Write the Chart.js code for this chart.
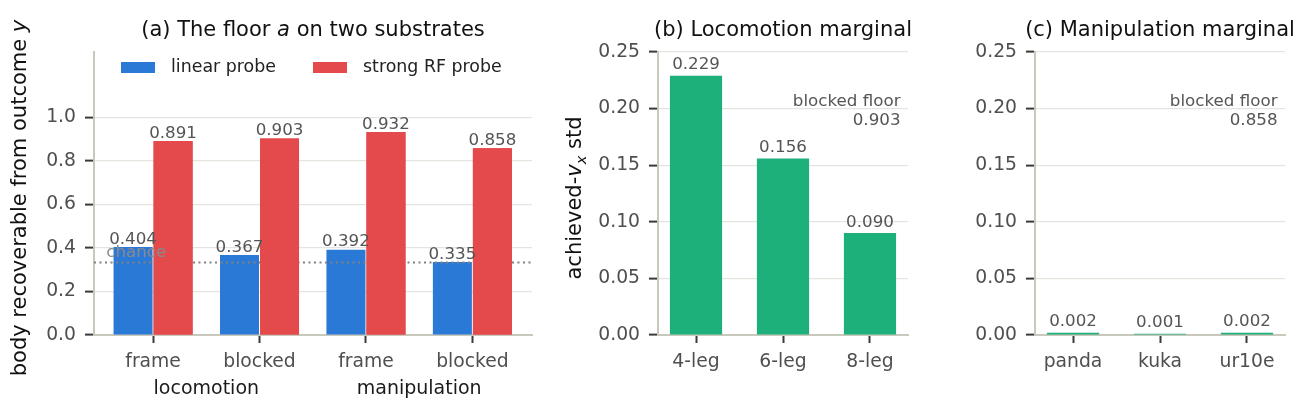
<!DOCTYPE html>
<html><head><meta charset="utf-8">
<script src="https://cdn.jsdelivr.net/npm/chart.js@4.4.1/dist/chart.umd.min.js"></script>
<style>
html,body{margin:0;padding:0;background:#fff;}
#wrap{position:relative;width:1306px;height:407px;overflow:hidden;background:#fff;}
canvas{position:absolute;top:0;}
</style></head><body>
<div id="wrap">
<canvas id="ca" width="550" height="407" style="left:0px"></canvas>
<canvas id="cb" width="400" height="407" style="left:550px"></canvas>
<canvas id="cc" width="356" height="407" style="left:950px"></canvas>
</div>
<script>
// ---------------- data ----------------
const substrateGroups = ['locomotion', 'manipulation'];
const readoutLabels = ['frame', 'blocked', 'frame', 'blocked'];
const linearProbe = [0.404, 0.367, 0.392, 0.335];
const strongRFProbe = [0.891, 0.903, 0.932, 0.858];
const chanceLevel = 0.333;
const floorTicks = [0, 0.2, 0.4, 0.6, 0.8, 1.0];

const locoBodies = ['4-leg', '6-leg', '8-leg'];
const locoStd = [0.229, 0.156, 0.090];
const manipBodies = ['panda', 'kuka', 'ur10e'];
const manipStd = [0.002, 0.001, 0.002];
const marginalTicks = [0, 0.05, 0.10, 0.15, 0.20, 0.25];
const blockedFloorLoco = 0.903;
const blockedFloorManip = 0.858;

// ---------------- style ----------------
const FONT = '"DejaVu Sans", "Liberation Sans", sans-serif';
const BLUE = '#2b79d6', RED = '#e4494c', GREEN = '#1eb07b';
const spineColor = '#c8c8bc', gridColor = '#e5e5df', tickMarkColor = '#3a3a3a';
const tickLabelColor = '#4f4f4f', valueColor = '#555555', textBlack = '#111111';
const TICK_FS = 18.75, VALUE_FS = 16.7, TITLE_FS = 21, LABEL_FS = 21;

Chart.defaults.font.family = FONT;

function fnt(size, italic) { return (italic ? 'italic ' : '') + size + 'px ' + FONT; }
function richWidth(ctx, parts, size) {
  let w = 0;
  for (const p of parts) { ctx.font = fnt(size * (p.scale || 1), p.italic); w += ctx.measureText(p.t).width; }
  return w;
}
function drawRich(ctx, parts, size, x, y, align) {
  const w = richWidth(ctx, parts, size);
  let cx = align === 'center' ? x - w / 2 : (align === 'right' ? x - w : x);
  ctx.textAlign = 'left'; ctx.textBaseline = 'alphabetic';
  for (const p of parts) {
    ctx.font = fnt(size * (p.scale || 1), p.italic);
    ctx.fillText(p.t, cx, y + (p.dy || 0) * size);
    cx += ctx.measureText(p.t).width;
  }
}

function makeYScale(max, ticksArr, decimals, width) {
  return {
    type: 'linear', min: 0, max: max,
    afterBuildTicks: s => { s.ticks = ticksArr.map(v => ({ value: v })); },
    afterFit: s => { s.width = width; },
    ticks: { callback: v => Number(v).toFixed(decimals), font: { family: FONT, size: TICK_FS }, color: tickLabelColor, padding: 9 },
    grid: {
      color: c => (c.tick && c.tick.value === 0) ? 'rgba(0,0,0,0)' : gridColor,
      lineWidth: 1.2, drawTicks: true, tickLength: 9, tickColor: tickMarkColor, tickWidth: 2
    },
    border: { display: true, color: spineColor, width: 2 }
  };
}
function makeXScale(labels, min, max) {
  return {
    type: 'linear', min: min, max: max, offset: false,
    afterBuildTicks: s => { s.ticks = labels.map((_, i) => ({ value: i })); },
    afterFit: s => { s.height = 72; },
    ticks: { callback: v => labels[Math.round(v)], font: { family: FONT, size: TICK_FS }, color: tickLabelColor, padding: 7.5, maxRotation: 0, autoSkip: false },
    grid: { offset: false, color: 'rgba(0,0,0,0)', drawOnChartArea: false, drawTicks: true, tickLength: 8, tickColor: tickMarkColor, tickWidth: 2 },
    border: { display: true, color: spineColor, width: 2 }
  };
}

function titlePlugin(parts) {
  return { id: 'titleP', afterDraw(chart) {
    const ctx = chart.ctx, ca = chart.chartArea;
    ctx.save(); ctx.fillStyle = textBlack;
    drawRich(ctx, parts, TITLE_FS, (ca.left + ca.right) / 2, 35.5, 'center');
    ctx.restore();
  } };
}
function yLabelPlugin(parts, baseX, centerY) {
  return { id: 'ylabP', afterDraw(chart) {
    const ctx = chart.ctx;
    ctx.save(); ctx.fillStyle = textBlack;
    ctx.translate(baseX, centerY); ctx.rotate(-Math.PI / 2);
    drawRich(ctx, parts, LABEL_FS, 0, 0, 'center');
    ctx.restore();
  } };
}
function valueLabelPlugin(gap) {
  return { id: 'valP', afterDatasetsDraw(chart) {
    const ctx = chart.ctx;
    ctx.save(); ctx.fillStyle = valueColor; ctx.font = fnt(VALUE_FS);
    ctx.textAlign = 'center'; ctx.textBaseline = 'alphabetic';
    chart.data.datasets.forEach((ds, di) => {
      const meta = chart.getDatasetMeta(di);
      meta.data.forEach((el, i) => {
        ctx.fillText(ds.data[i].y.toFixed(3), el.x, el.y - gap);
      });
    });
    ctx.restore();
  } };
}
function floorNotePlugin(value) {
  return { id: 'floorP', afterDraw(chart) {
    const ctx = chart.ctx, ca = chart.chartArea, ys = chart.scales.y;
    const yb = ys.getPixelForValue(0.2) - 2.5;
    ctx.save(); ctx.fillStyle = valueColor; ctx.font = fnt(VALUE_FS);
    ctx.textAlign = 'right'; ctx.textBaseline = 'alphabetic';
    ctx.fillText('blocked floor', ca.right - 7.5, yb);
    ctx.fillText(value.toFixed(3), ca.right - 7.5, yb + 19);
    ctx.restore();
  } };
}

const common = {
  responsive: false, animation: false, devicePixelRatio: 1,
  plugins: { legend: { display: false }, tooltip: { enabled: false } }
};

// ---------------- panel (a) ----------------
// chance line: above the blue bars, below the red bars (red bars are re-drawn on top)
const chancePlugin = {
  id: 'chanceP',
  afterDatasetsDraw(chart) {
    const ctx = chart.ctx, ca = chart.chartArea;
    const y = chart.scales.y.getPixelForValue(chanceLevel);
    ctx.save(); ctx.strokeStyle = '#808080'; ctx.lineWidth = 2; ctx.setLineDash([2, 3.5]);
    ctx.beginPath(); ctx.moveTo(ca.left, y); ctx.lineTo(ca.right, y); ctx.stroke();
    ctx.restore();
    ctx.save();
    chart.getDatasetMeta(1).data.forEach(el => el.draw(ctx, ca));
    ctx.restore();
    const x = chart.scales.x.getPixelForValue(-0.44);
    ctx.save(); ctx.fillStyle = '#8a8a8a'; ctx.font = fnt(VALUE_FS);
    ctx.textAlign = 'left'; ctx.textBaseline = 'alphabetic';
    ctx.fillText('chance', x, y - 6);
    ctx.restore();
  }
};
const groupLabelPlugin = {
  id: 'groupP',
  afterDraw(chart) {
    const ctx = chart.ctx, xs = chart.scales.x;
    ctx.save(); ctx.fillStyle = '#1a1a1a'; ctx.font = fnt(19);
    ctx.textAlign = 'center'; ctx.textBaseline = 'alphabetic';
    substrateGroups.forEach((g, gi) => {
      const x = (xs.getPixelForValue(gi * 2) + xs.getPixelForValue(gi * 2 + 1)) / 2;
      ctx.fillText(g, x, 394);
    });
    ctx.restore();
  }
};
const legendPlugin = {
  id: 'legP',
  afterDraw(chart) {
    const ctx = chart.ctx;
    const items = [[121, 171], [313, 363]];
    ctx.save(); ctx.font = fnt(17.4); ctx.textAlign = 'left'; ctx.textBaseline = 'middle';
    chart.data.datasets.forEach((ds, i) => {
      ctx.fillStyle = ds.backgroundColor;
      ctx.fillRect(items[i][0], 62, 34, 11);
      ctx.fillStyle = '#222222';
      ctx.fillText(ds.label, items[i][1], 67.5);
    });
    ctx.restore();
  }
};

new Chart(document.getElementById('ca'), {
  type: 'bar',
  data: {
    datasets: [
      { label: 'linear probe', data: linearProbe.map((v, i) => ({ x: i, y: v })), backgroundColor: BLUE,
        categoryPercentage: 0.752, barPercentage: 0.975, borderWidth: 0 },
      { label: 'strong RF probe', data: strongRFProbe.map((v, i) => ({ x: i, y: v })), backgroundColor: RED,
        categoryPercentage: 0.752, barPercentage: 0.975, borderWidth: 0 }
    ]
  },
  options: Object.assign({}, common, {
    layout: { padding: { left: 0, right: 18, top: 52, bottom: 0 } },
    scales: { x: makeXScale(readoutLabels, -0.555, 3.56), y: makeYScale(1.3, floorTicks, 1, 94) }
  }),
  plugins: [
    chancePlugin, valueLabelPlugin(3.5), groupLabelPlugin, legendPlugin,
    titlePlugin([{ t: '(a) The floor ' }, { t: 'a', italic: true }, { t: ' on two substrates' }]),
    yLabelPlugin([{ t: 'body recoverable from outcome ' }, { t: 'y', italic: true }], 26, 198)
  ]
});

// ---------------- panel (b) ----------------
new Chart(document.getElementById('cb'), {
  type: 'bar',
  data: { datasets: [{ label: 'locomotion', data: locoStd.map((v, i) => ({ x: i, y: v })), backgroundColor: GREEN,
    categoryPercentage: 0.6, barPercentage: 1, borderWidth: 0 }] },
  options: Object.assign({}, common, {
    layout: { padding: { left: 0, right: 42, top: 52, bottom: 0 } },
    scales: { x: makeXScale(locoBodies, -0.437, 2.437), y: makeYScale(0.25, marginalTicks, 2, 108) }
  }),
  plugins: [
    valueLabelPlugin(6.5), floorNotePlugin(blockedFloorLoco),
    titlePlugin([{ t: '(b) Locomotion marginal' }]),
    yLabelPlugin([{ t: 'achieved-' }, { t: 'v', italic: true }, { t: 'x', italic: true, scale: 0.7, dy: 0.22 }, { t: ' std' }], 31, 198)
  ]
});

// ---------------- panel (c) ----------------
new Chart(document.getElementById('cc'), {
  type: 'bar',
  data: { datasets: [{ label: 'manipulation', data: manipStd.map((v, i) => ({ x: i, y: v })), backgroundColor: GREEN,
    categoryPercentage: 0.6, barPercentage: 1, borderWidth: 0 }] },
  options: Object.assign({}, common, {
    layout: { padding: { left: 0, right: 21, top: 52, bottom: 0 } },
    scales: { x: makeXScale(manipBodies, -0.437, 2.437), y: makeYScale(0.25, marginalTicks, 2, 85) }
  }),
  plugins: [
    valueLabelPlugin(6.5), floorNotePlugin(blockedFloorManip),
    titlePlugin([{ t: '(c) Manipulation marginal' }])
  ]
});
</script>
</body></html>
